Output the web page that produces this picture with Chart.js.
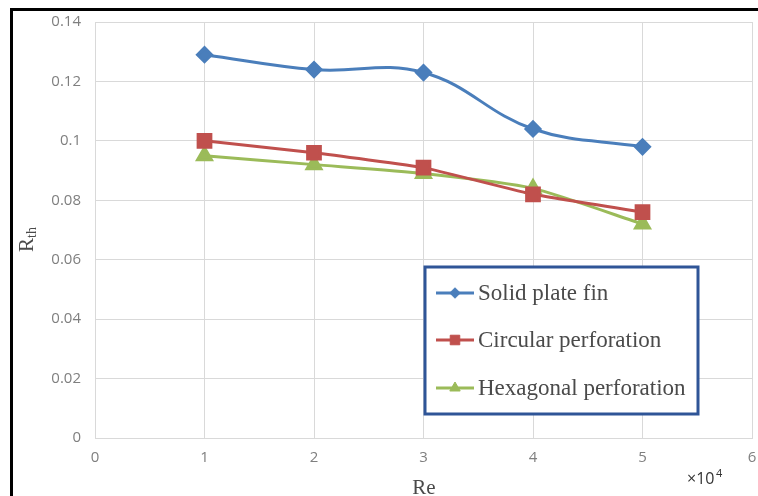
<!DOCTYPE html>
<html>
<head>
<meta charset="utf-8">
<script src="https://cdn.jsdelivr.net/npm/chart.js@4/dist/chart.umd.min.js"></script>
<style>
  body { margin: 0; background: #fff; }
  #wrap { position: relative; width: 758px; height: 496px; overflow: hidden; }
  #frame { position: absolute; left: 10px; top: 8px; width: 760px; height: 500px; border: 3px solid #000; box-sizing: border-box; pointer-events: none; }
  canvas { position: absolute; left: 0; top: 0; }
</style>
</head>
<body>
<div id="wrap">
  <canvas id="myChart" width="758" height="496"></canvas>
  <div id="frame"></div>
</div>
<script>
const reValues = [1, 2, 3, 4, 5];
const solidFin = [0.129, 0.124, 0.123, 0.104, 0.098];
const circularPerf = [0.100, 0.096, 0.091, 0.082, 0.076];
const hexagonalPerf = [0.095, 0.092, 0.089, 0.084, 0.072];
const seriesNames = ['Solid plate fin', 'Circular perforation', 'Hexagonal perforation'];

function toPoints(vals) {
  return vals.map((v, i) => ({ x: reValues[i], y: v }));
}

// legend box + axis titles drawn by hand
const extras = {
  id: 'extras',
  afterDraw(chart) {
    const ctx = chart.ctx;
    ctx.save();
    // legend box
    ctx.strokeStyle = '#2F5597';
    ctx.lineWidth = 3;
    ctx.fillStyle = '#fff';
    ctx.fillRect(425, 267, 273, 147);
    ctx.strokeRect(425, 267, 273, 147);
    const rows = [293, 340, 388];
    chart.data.datasets.forEach((ds, i) => {
      const y = rows[i];
      ctx.strokeStyle = ds.borderColor;
      ctx.lineWidth = 3;
      ctx.beginPath();
      ctx.moveTo(436, y);
      ctx.lineTo(474, y);
      ctx.stroke();
      ctx.fillStyle = ds.backgroundColor;
      ctx.strokeStyle = ds.borderColor;
      ctx.lineWidth = 1;
      Chart.helpers.drawPoint(ctx, { pointStyle: ds.pointStyle, radius: ds.pointRadius * 0.75, rotation: 0, borderWidth: 1 }, 455, y);
      ctx.fillStyle = '#4a4a4a';
      ctx.font = '23px "Liberation Serif", serif';
      ctx.textBaseline = 'middle';
      ctx.textAlign = 'left';
      ctx.fillText(ds.label, 478, y + 1);
    });
    // axis titles
    ctx.fillStyle = '#4a4a4a';
    ctx.textAlign = 'center';
    ctx.textBaseline = 'middle';
    ctx.font = '21px "Liberation Serif", serif';
    ctx.fillText('Re', 424, 488);
    ctx.save();
    ctx.translate(33, 252);
    ctx.rotate(-Math.PI / 2);
    ctx.textAlign = 'left';
    ctx.textBaseline = 'alphabetic';
    ctx.font = '21px "Liberation Serif", serif';
    ctx.fillText('R', 0, 0);
    const rw = ctx.measureText('R').width;
    ctx.font = '14px "Liberation Serif", serif';
    ctx.fillText('th', rw, 3);
    ctx.restore();
    ctx.textAlign = 'left';
    ctx.fillStyle = '#333';
    ctx.font = '16px "Open Sans", sans-serif';
    ctx.fillText('\u00d710', 687, 479);
    ctx.font = '11px "Open Sans", sans-serif';
    ctx.fillText('4', 716, 474);
    ctx.restore();
  }
};

const data = {
  datasets: [{
    label: seriesNames[0],
    data: toPoints(solidFin),
    borderColor: '#4A7EBB',
    backgroundColor: '#4A7EBB',
    pointStyle: 'rectRot',
    pointRadius: 7,
    borderWidth: 3,
    tension: 0.4
  }, {
    label: seriesNames[1],
    data: toPoints(circularPerf),
    borderColor: '#C0504D',
    backgroundColor: '#C0504D',
    pointStyle: 'rect',
    pointRadius: 9,
    borderWidth: 3,
    tension: 0.1
  }, {
    label: seriesNames[2],
    data: toPoints(hexagonalPerf),
    borderColor: '#9BBB59',
    backgroundColor: '#9BBB59',
    pointStyle: 'triangle',
    pointRadius: 8,
    borderWidth: 3,
    tension: 0.2
  }]
};

const tickFont = { size: 15, family: '"Open Sans", sans-serif' };

const config = {
  type: 'line',
  data: data,
  options: {
    responsive: false,
    animation: false,
    layout: { autoPadding: false, padding: { left: 0, top: 22, right: 6, bottom: 0 } },
    plugins: { legend: { display: false }, tooltip: { enabled: false } },
    scales: {
      x: {
        type: 'linear',
        min: 0, max: 6,
        afterFit: (s) => { s.height = 58; s.paddingRight = 0; s.paddingLeft = 0; },
        ticks: { stepSize: 1, padding: 11, color: '#7F7F7F', font: tickFont },
        grid: { color: '#D9D9D9', drawTicks: false },
        border: { color: '#D9D9D9' }
      },
      y: {
        min: 0, max: 0.14,
        afterFit: (s) => { s.width = 95; s.paddingTop = 0; s.paddingBottom = 0; },
        ticks: {
          stepSize: 0.02, padding: 14, color: '#7F7F7F',
          font: tickFont,
          callback: (v) => String(+v.toFixed(2))
        },
        grid: { color: '#D9D9D9', drawTicks: false },
        border: { color: '#D9D9D9' }
      }
    }
  },
  plugins: [extras]
};

new Chart(document.getElementById('myChart'), config);
</script>
</body>
</html>
